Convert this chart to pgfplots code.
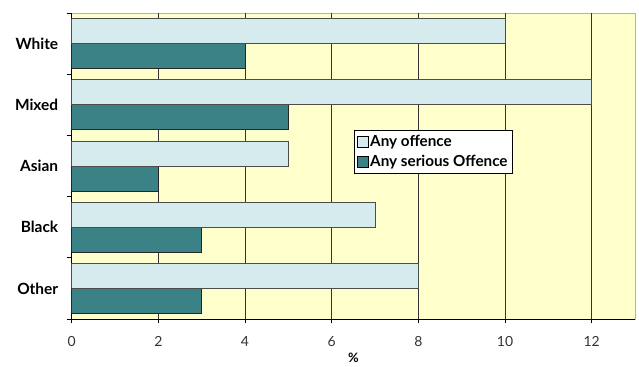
\documentclass[border=0pt]{standalone}
\usepackage{pgfplots}
\pgfplotsset{compat=1.18}
\usepackage{fontspec}
\setmainfont{Lato}
\definecolor{bgy}{HTML}{FFFFCC}
\definecolor{lightb}{HTML}{D6EBEE}
\definecolor{teal2}{HTML}{3B8286}
\begin{document}
\begin{tikzpicture}
\begin{axis}[
  scale only axis,
  width=563.3bp, height=306bp,
  xbar, bar width=25bp,
  xmin=0, xmax=13,
  ymin=-0.5, ymax=4.5,
  xtick={0,2,...,12},
  ytick={0,1,2,3,4},
  yticklabels={Other,Black,Asian,Mixed,White},
  minor ytick={-0.5,0.5,...,4.5},
  major y tick style={draw=none},
  minor y tick style={black, line width=0.6bp},
  minor tick length=5bp,
  tick align=outside,
  major tick length=4bp,
  x tick style={black, line width=0.6bp},
  axis x line*=bottom, axis y line*=left,
  axis line style={black, line width=0.7bp, -},
  axis background/.style={fill=bgy, draw=black!30, line width=0.8bp},
  xmajorgrids,
  major grid style={black!80, line width=0.6bp},
  /pgf/number format/assume math mode=true,
  ticklabel style={font=\fontsize{14}{16}\selectfont},
  yticklabel style={font=\fontsize{15.5}{17}\selectfont\bfseries, xshift=-6bp},
  xticklabel style={yshift=-10bp, text=black!80},
  xlabel={\%},
  xlabel style={font=\fontsize{13}{15}\selectfont\bfseries, yshift=1bp},
  legend style={at={(0.501,0.618)}, anchor=north west, draw=black, fill=white,
    font=\fontsize{15.3}{17}\selectfont\bfseries, inner xsep=2.5bp, inner ysep=3bp, row sep=3.5bp,
    /tikz/every even column/.append style={column sep=1bp}},
  legend image code/.code={\draw[#1, draw=black] (0bp,-5.5bp) rectangle (11bp,5.5bp);},
  legend cell align=left,
  reverse legend,
]
\addplot[fill=teal2, draw=black!85, line width=0.6bp, bar shift=-12.5bp] coordinates {(3,0) (3,1) (2,2) (5,3) (4,4)};
\addplot[fill=lightb, draw=black!70, line width=0.6bp, bar shift=12.5bp] coordinates {(8,0) (7,1) (5,2) (12,3) (10,4)};
\legend{Any serious Offence, Any offence}
\end{axis}
\pgfresetboundingbox
\path (current axis.south west) ++(-71.7bp,-48bp) coordinate (bl);
\path (current axis.north east) ++(4bp,13bp) coordinate (tr);
\path[use as bounding box] (bl) rectangle (tr);
\end{tikzpicture}
\end{document}
